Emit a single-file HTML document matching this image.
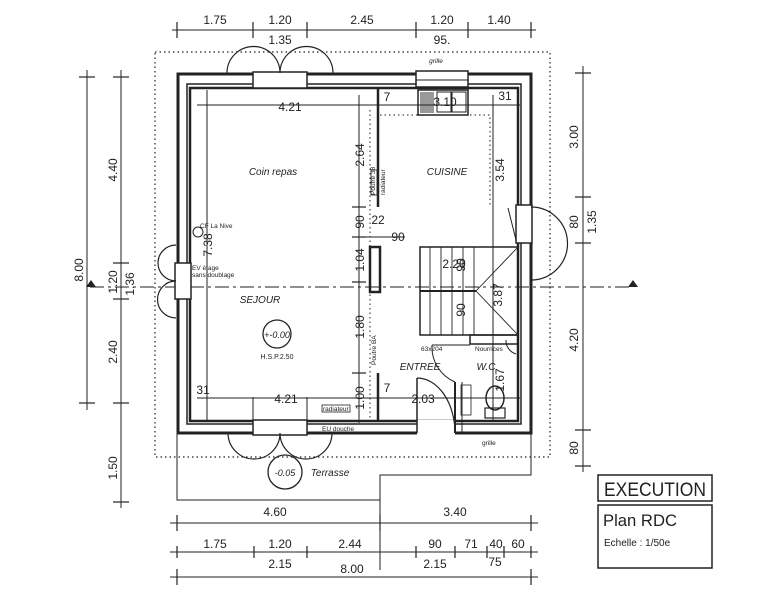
<!DOCTYPE html>
<html><head><meta charset="utf-8"><style>
html,body{margin:0;padding:0;background:#fff}
svg{display:block}
text{font-family:"Liberation Sans",sans-serif;fill:#222}
</style></head><body>
<svg width="772" height="600" viewBox="0 0 772 600" xmlns="http://www.w3.org/2000/svg">
<g stroke="#222" fill="none">
<rect x="155" y="52" width="395" height="405" stroke-dasharray="1.5 3" stroke-width="1.2"/>
<line x1="172" y1="30" x2="536" y2="30"/>
<g stroke-width="1.2">
<line x1="177" y1="22" x2="177" y2="38"/><line x1="253" y1="22" x2="253" y2="38"/><line x1="307" y1="22" x2="307" y2="38"/><line x1="416" y1="22" x2="416" y2="38"/><line x1="468" y1="22" x2="468" y2="38"/><line x1="531" y1="22" x2="531" y2="38"/>
</g>
<line x1="87" y1="70" x2="87" y2="410"/>
<line x1="121" y1="70" x2="121" y2="508"/>
<g stroke-width="1.2">
<line x1="79" y1="77" x2="95" y2="77"/><line x1="79" y1="403" x2="95" y2="403"/>
<line x1="113" y1="77" x2="129" y2="77"/><line x1="113" y1="263" x2="129" y2="263"/><line x1="113" y1="299" x2="129" y2="299"/><line x1="113" y1="403" x2="129" y2="403"/><line x1="113" y1="502" x2="129" y2="502"/>
</g>
<line x1="583" y1="66" x2="583" y2="472"/>
<g stroke-width="1.2">
<line x1="575" y1="73" x2="591" y2="73"/><line x1="575" y1="197" x2="591" y2="197"/><line x1="575" y1="243" x2="591" y2="243"/><line x1="575" y1="430" x2="591" y2="430"/><line x1="575" y1="466" x2="591" y2="466"/>
</g>
<line x1="90" y1="287" x2="632" y2="287" stroke-dasharray="14 4 3 4"/>
<line x1="170" y1="523" x2="538" y2="523"/>
<line x1="170" y1="552" x2="538" y2="552"/>
<line x1="170" y1="577" x2="538" y2="577"/>
<g stroke-width="1.2">
<line x1="177" y1="515" x2="177" y2="531"/><line x1="380" y1="515" x2="380" y2="531"/><line x1="531" y1="515" x2="531" y2="531"/>
<line x1="177" y1="546" x2="177" y2="558"/><line x1="254" y1="546" x2="254" y2="558"/><line x1="307" y1="546" x2="307" y2="558"/><line x1="416" y1="546" x2="416" y2="558"/><line x1="455" y1="546" x2="455" y2="558"/><line x1="487" y1="546" x2="487" y2="558"/><line x1="504" y1="546" x2="504" y2="558"/><line x1="531" y1="546" x2="531" y2="558"/>
<line x1="177" y1="569" x2="177" y2="585"/><line x1="531" y1="569" x2="531" y2="585"/>
</g>
<polyline points="177,433 177,500 380,500 380,475 531,475 531,433"/>
<line x1="380" y1="500" x2="380" y2="570"/>
<rect x="178" y="74" width="353" height="359" stroke-width="3"/>
<rect x="187" y="84" width="334" height="340" stroke-width="1.5"/>
<rect x="190" y="88" width="328" height="333" stroke-width="2.5"/>
<rect x="253" y="72" width="54" height="16" fill="#fff" stroke-width="1.5"/>
<path d="M227,73 A26.5,26.5 0 0 1 280,73 A26.5,26.5 0 0 1 333,73" stroke-width="1.2"/>
<rect x="416" y="71" width="52" height="16" fill="#fff" stroke-width="1.5"/>
<line x1="416" y1="80" x2="468" y2="80"/>
<rect x="418" y="90" width="50" height="25" stroke-width="1.5"/>
<rect x="420" y="92" width="14" height="21" fill="#999" stroke="none"/>
<rect x="437" y="92" width="14" height="20"/><rect x="452" y="92" width="14" height="20"/>
<rect x="175" y="263" width="16" height="36" fill="#fff" stroke-width="1.5"/>
<path d="M176,245 A18,18 0 0 0 176,281 A18,18 0 0 0 176,318" stroke-width="1.2"/>
<rect x="253" y="420" width="54" height="15" fill="#fff" stroke-width="1.5"/>
<path d="M228,433 A26,26 0 0 0 280,433 A26,26 0 0 0 332,433" stroke-width="1.2"/>
<line x1="253" y1="397" x2="253" y2="433"/><line x1="307" y1="397" x2="307" y2="433"/>
<rect x="516" y="205" width="16" height="38" fill="#fff" stroke-width="1.5"/>
<path d="M531,207 A36,36 0 0 1 531,280" stroke-width="1.2"/>
<line x1="508" y1="208" x2="516" y2="240"/>
<rect x="417" y="420" width="38" height="16" fill="#fff" stroke="none"/>
<line x1="417" y1="378" x2="417" y2="433" stroke-width="1.5"/>
<path d="M417,378 A38,55 0 0 1 455,433" stroke-width="1.2"/>
<line x1="455" y1="382" x2="455" y2="433" stroke-width="2"/>
<line x1="462" y1="382" x2="462" y2="433" stroke-width="1"/>
<line x1="378" y1="88" x2="378" y2="207" stroke-width="2.5"/>
<rect x="370" y="247" width="10" height="45" stroke-width="2.5"/>
<line x1="378" y1="373" x2="378" y2="422" stroke-width="2.5"/>
<line x1="370" y1="110" x2="370" y2="422" stroke-dasharray="1.5 3"/>
<polyline points="380,115 490,115 490,205" stroke-dasharray="1.5 3"/>
<rect x="371" y="170" width="6" height="25" stroke-width="0.8"/>
<rect x="420" y="247" width="98" height="88" stroke-width="1.5"/>
<line x1="420" y1="291" x2="476" y2="291" stroke-width="2"/>
<g stroke-width="0.9">
<line x1="430" y1="247" x2="430" y2="335"/><line x1="441" y1="247" x2="441" y2="335"/><line x1="452" y1="247" x2="452" y2="335"/><line x1="463" y1="247" x2="463" y2="335"/><line x1="474" y1="247" x2="474" y2="335"/>
<line x1="476" y1="291" x2="518" y2="247"/><line x1="476" y1="291" x2="518" y2="335"/>
</g>
<rect x="470" y="335" width="48" height="9" stroke-width="1.5"/>
<path d="M432,345 A38,38 0 0 0 455,382" stroke-width="1"/>
<line x1="432" y1="345" x2="470" y2="345"/>
<ellipse cx="495" cy="398" rx="9" ry="12" stroke-width="1.5"/>
<rect x="485" y="408" width="20" height="10" stroke-width="1.2"/>
<rect x="461" y="385" width="10" height="30" stroke-width="0.8"/>
<path d="M506,340 A14,14 0 0 0 516,354" stroke-width="1"/>
<line x1="359" y1="95" x2="359" y2="423"/>
<line x1="207" y1="90" x2="207" y2="420"/>
<line x1="197" y1="105" x2="520" y2="105"/>
<line x1="197" y1="398" x2="520" y2="398"/>
<line x1="493" y1="95" x2="493" y2="420"/>
<line x1="365" y1="237" x2="405" y2="237"/>
<g stroke-width="1.2">
<line x1="352" y1="207" x2="366" y2="207"/><line x1="352" y1="237" x2="366" y2="237"/><line x1="352" y1="282" x2="366" y2="282"/><line x1="352" y1="373" x2="366" y2="373"/>
</g>
<circle cx="277" cy="334" r="14" stroke-width="1.3"/>
<circle cx="285" cy="472" r="17" stroke-width="1.3"/>
<circle cx="198" cy="232" r="5"/>
<rect x="598" y="475" width="114" height="26" stroke-width="1.5"/>
<rect x="598" y="505" width="114" height="63" stroke-width="1.5"/>
<rect x="322" y="405" width="28" height="7" stroke-width="0.8"/>
</g>
<polygon points="86,287 91,280 96,287" fill="#222"/>
<polygon points="628,287 633,280 638,287" fill="#222"/>
<g font-size="12" text-anchor="middle">
<text x="215" y="24">1.75</text><text x="280" y="24">1.20</text><text x="280" y="44">1.35</text><text x="362" y="24">2.45</text><text x="442" y="24">1.20</text><text x="442" y="44">95.</text><text x="499" y="24">1.40</text>
<text x="275" y="516">4.60</text><text x="455" y="516">3.40</text>
<text x="215" y="548">1.75</text><text x="280" y="548">1.20</text><text x="350" y="548">2.44</text><text x="435" y="548">90</text><text x="471" y="548">71</text><text x="496" y="548">40</text><text x="518" y="548">60</text>
<text x="280" y="568">2.15</text><text x="435" y="568">2.15</text><text x="495" y="566">75</text><text x="352" y="573">8.00</text>
<text x="290" y="111">4.21</text><text x="286" y="403">4.21</text>
<text x="203" y="394">31</text><text x="505" y="100">31</text>
<text x="387" y="101">7</text><text x="387" y="392">7</text>
<text x="378" y="224">22</text><text x="398" y="241">90</text>
<text x="423" y="403">2.03</text><text x="445" y="106">3.10</text>
<text x="454" y="268">2.20</text>
</g>
<g font-size="12" text-anchor="middle">
<text transform="translate(83,270) rotate(-90)">8.00</text>
<text transform="translate(117,170) rotate(-90)">4.40</text>
<text transform="translate(117,282) rotate(-90)">1.20</text>
<text transform="translate(134,284) rotate(-90)">1.36</text>
<text transform="translate(117,352) rotate(-90)">2.40</text>
<text transform="translate(117,468) rotate(-90)">1.50</text>
<text transform="translate(578,137) rotate(-90)">3.00</text>
<text transform="translate(578,222) rotate(-90)">80</text>
<text transform="translate(596,222) rotate(-90)">1.35</text>
<text transform="translate(578,340) rotate(-90)">4.20</text>
<text transform="translate(578,448) rotate(-90)">80</text>
<text transform="translate(364,155) rotate(-90)">2.64</text>
<text transform="translate(364,222) rotate(-90)">90</text>
<text transform="translate(364,260) rotate(-90)">1.04</text>
<text transform="translate(364,327) rotate(-90)">1.80</text>
<text transform="translate(364,398) rotate(-90)">1.00</text>
<text transform="translate(504,170) rotate(-90)">3.54</text>
<text transform="translate(212,245) rotate(-90)">7.38</text>
<text transform="translate(465,265) rotate(-90)">90</text>
<text transform="translate(465,310) rotate(-90)">90</text>
<text transform="translate(502,295) rotate(-90)">3.87</text>
<text transform="translate(504,380) rotate(-90)">1.67</text>
</g>
<g font-size="10" font-style="italic" text-anchor="middle">
<text x="273" y="175">Coin repas</text><text x="447" y="175">CUISINE</text>
<text x="260" y="303">SEJOUR</text><text x="420" y="370">ENTREE</text><text x="486" y="370">W.C</text>
<text x="330" y="476">Terrasse</text>
<text x="277" y="338" font-size="9">+-0.00</text><text x="285" y="476" font-size="9">-0.05</text>
</g>
<g font-size="6.5">
<text x="277" y="359" text-anchor="middle" font-size="7">H.S.P.2.50</text>
<text x="436" y="63" text-anchor="middle" font-style="italic">grille</text>
<text x="482" y="445">grille</text>
<text x="200" y="228">CF La Nive</text>
<text x="192" y="270">EV étage</text><text x="192" y="277">sans doublage</text>
<text x="323" y="411">radiateur</text><text x="322" y="431">EU douche</text>
<text x="421" y="351">63x204</text><text x="475" y="351">Nourrices</text>
<text transform="translate(375,195) rotate(-90)">Poutre 38</text>
<text transform="translate(385,195) rotate(-90)">radiateur</text>
<text transform="translate(376,365) rotate(-90)">Poutre BA</text>
</g>
<text x="604" y="496" font-size="19" textLength="102" lengthAdjust="spacingAndGlyphs">EXECUTION</text>
<text x="603" y="526" font-size="17" textLength="74" lengthAdjust="spacingAndGlyphs">Plan RDC</text>
<text x="604" y="546" font-size="10">Echelle : 1/50e</text>
</svg>
</body></html>
